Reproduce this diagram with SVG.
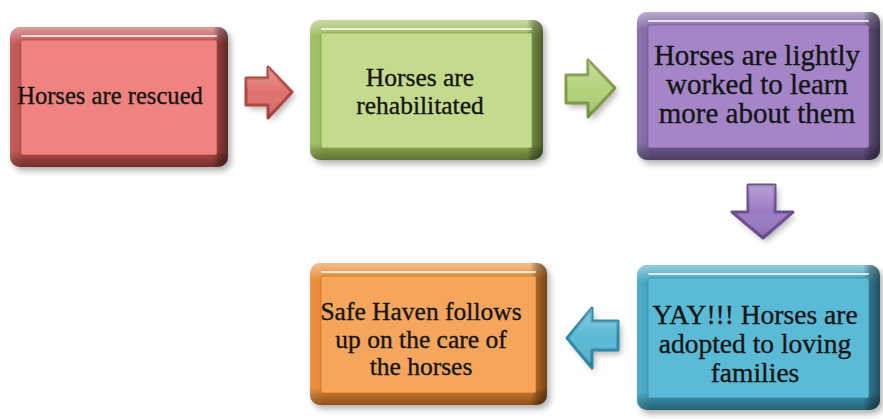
<svg xmlns="http://www.w3.org/2000/svg" width="883" height="419" viewBox="0 0 883 419">
<defs>
  <filter id="sh" x="-10%" y="-10%" width="130%" height="130%">
    <feGaussianBlur stdDeviation="3"/>
  </filter>
  <linearGradient id="bv" x1="0" y1="0" x2="0" y2="1">
    <stop offset="0" stop-color="#fff" stop-opacity="0.45"/>
    <stop offset="0.08" stop-color="#fff" stop-opacity="0.15"/>
    <stop offset="0.12" stop-color="#fff" stop-opacity="0"/>
    <stop offset="0.88" stop-color="#000" stop-opacity="0"/>
    <stop offset="0.93" stop-color="#000" stop-opacity="0.2"/>
    <stop offset="1" stop-color="#000" stop-opacity="0.4"/>
  </linearGradient>
  <linearGradient id="bh" x1="0" y1="0" x2="1" y2="0">
    <stop offset="0" stop-color="#fff" stop-opacity="0.1"/>
    <stop offset="0.06" stop-color="#fff" stop-opacity="0"/>
    <stop offset="0.93" stop-color="#000" stop-opacity="0"/>
    <stop offset="0.96" stop-color="#000" stop-opacity="0.3"/>
    <stop offset="1" stop-color="#000" stop-opacity="0.5"/>
  </linearGradient>
  <linearGradient id="ag" x1="0" y1="0" x2="0" y2="1">
    <stop offset="0" stop-color="#fff" stop-opacity="0.3"/>
    <stop offset="0.5" stop-color="#fff" stop-opacity="0"/>
    <stop offset="1" stop-color="#000" stop-opacity="0.15"/>
  </linearGradient>
  <style>
    .shadow { fill: #000; opacity: 0.3; filter: url(#sh); }
    .hl { stroke: #fff; stroke-width: 2; stroke-opacity: 0.75; stroke-linecap: round; }
    .face { stroke-width: 1; stroke-opacity: 0.5; }
    .t { font-family: "Liberation Serif", "Times New Roman", serif; fill: #151515; stroke: #151515; stroke-width: 0.35; text-anchor: middle; }
    .arr { stroke-width: 3; stroke-linejoin: round; }
  </style>
</defs>
<rect width="883" height="419" fill="#fff"/>

<g id="n1">
  <rect class="shadow" x="13" y="31" width="218" height="140" rx="10"/>
  <rect x="10" y="27" width="218" height="140" rx="10" fill="#C0504D"/>
  <rect x="10" y="27" width="218" height="140" rx="10" fill="url(#bv)"/>
  <rect x="10" y="27" width="218" height="140" rx="10" fill="url(#bh)"/>
  <rect class="face" x="21" y="40" width="196" height="115" rx="2" fill="#F0837F" stroke="#9A3A37"/>
  <line class="hl" x1="22" y1="36" x2="216" y2="36"/>
  <text class="t" x="110" y="104" font-size="24.6">Horses are rescued</text>
</g>

<g id="n2">
  <rect class="shadow" x="313" y="24" width="233" height="140" rx="10"/>
  <rect x="310" y="20" width="233" height="140" rx="10" fill="#9BBB59"/>
  <rect x="310" y="20" width="233" height="140" rx="10" fill="url(#bv)"/>
  <rect x="310" y="20" width="233" height="140" rx="10" fill="url(#bh)"/>
  <rect class="face" x="321" y="33" width="211" height="115" rx="2" fill="#C4DA8C" stroke="#6E8A3A"/>
  <line class="hl" x1="322" y1="29" x2="531" y2="29"/>
  <text class="t" x="420" y="86" font-size="25.5">Horses are</text>
  <text class="t" x="420" y="114" font-size="25.5">rehabilitated</text>
</g>

<g id="n3">
  <rect class="shadow" x="640" y="16" width="243" height="148" rx="10"/>
  <rect x="637" y="12" width="243" height="148" rx="10" fill="#8064A2"/>
  <rect x="637" y="12" width="243" height="148" rx="10" fill="url(#bv)"/>
  <rect x="637" y="12" width="243" height="148" rx="10" fill="url(#bh)"/>
  <rect class="face" x="648" y="25" width="221" height="123" rx="2" fill="#A486C8" stroke="#5C4478"/>
  <line class="hl" x1="649" y1="21" x2="868" y2="21"/>
  <text class="t" x="757" y="65" font-size="29">Horses are lightly</text>
  <text class="t" x="757" y="94" font-size="29">worked to learn</text>
  <text class="t" x="757" y="123" font-size="29">more about them</text>
</g>

<g id="n4">
  <rect class="shadow" x="640" y="269" width="243" height="145" rx="10"/>
  <rect x="637" y="265" width="243" height="145" rx="10" fill="#3FA3C1"/>
  <rect x="637" y="265" width="243" height="145" rx="10" fill="url(#bv)"/>
  <rect x="637" y="265" width="243" height="145" rx="10" fill="url(#bh)"/>
  <rect class="face" x="648" y="278" width="221" height="120" rx="2" fill="#5BBAD6" stroke="#2A7A94"/>
  <line class="hl" x1="649" y1="274" x2="868" y2="274"/>
  <text class="t" x="755" y="324" font-size="27.5">YAY!!! Horses are</text>
  <text class="t" x="755" y="353" font-size="27.5">adopted to loving</text>
  <text class="t" x="755" y="382" font-size="27.5">families</text>
</g>

<g id="n5">
  <rect class="shadow" x="313" y="267" width="237" height="142" rx="10"/>
  <rect x="310" y="263" width="237" height="142" rx="10" fill="#E8872F"/>
  <rect x="310" y="263" width="237" height="142" rx="10" fill="url(#bv)"/>
  <rect x="310" y="263" width="237" height="142" rx="10" fill="url(#bh)"/>
  <rect class="face" x="321" y="276" width="215" height="117" rx="2" fill="#F6A55C" stroke="#B05F18"/>
  <line class="hl" x1="322" y1="272" x2="535" y2="272"/>
  <text class="t" x="421" y="320" font-size="25.5">Safe Haven follows</text>
  <text class="t" x="421" y="348" font-size="25.5">up on the care of</text>
  <text class="t" x="421" y="375" font-size="25.5">the horses</text>
</g>

<g id="connectors">
  <g id="a1">
    <polygon class="shadow" points="249,82 271,82 271,71 295,96 271,122 271,109 249,109"/>
    <polygon class="arr" points="246,78 268,78 268,67 292,92 268,118 268,105 246,105" fill="#E0706D" stroke="#B0443F"/>
    <polygon points="246,78 268,78 268,67 292,92 268,118 268,105 246,105" fill="url(#ag)"/>
  </g>
  <g id="a2">
    <polygon class="shadow" points="569,79 591,79 591,64 618,92 591,122 591,107 569,107"/>
    <polygon class="arr" points="566,75 588,75 588,60 615,88 588,117 588,103 566,103" fill="#B3D27A" stroke="#7E9C45"/>
    <polygon points="566,75 588,75 588,60 615,88 588,117 588,103 566,103" fill="url(#ag)"/>
  </g>
  <g id="a3">
    <polygon class="shadow" points="751,189 778,189 778,216 796,216 766,242 735,216 751,216"/>
    <polygon class="arr" points="748,185 775,185 775,212 793,212 763,238 732,212 748,212" fill="#9A7BC3" stroke="#6A5090"/>
    <polygon points="748,185 775,185 775,212 793,212 763,238 732,212 748,212" fill="url(#ag)"/>
  </g>
  <g id="a4">
    <polygon class="shadow" points="621,325 595,325 595,312 570,342 595,372 595,354 621,354"/>
    <polygon class="arr" points="618,321 592,321 592,308 567,338 592,368 592,350 618,350" fill="#5AB8D4" stroke="#2F8AA6"/>
    <polygon points="618,321 592,321 592,308 567,338 592,368 592,350 618,350" fill="url(#ag)"/>
  </g>
</g>
</svg>
